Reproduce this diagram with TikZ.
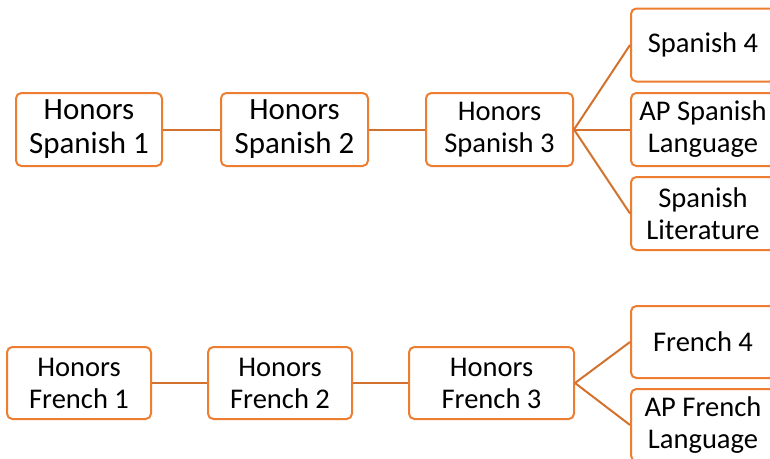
\documentclass[tikz,border=0pt]{standalone}
\usepackage{fontspec}
\setmainfont{Carlito}
\usepackage{xcolor}
\usepackage{tikz}
\usetikzlibrary{positioning}
\definecolor{boxorange}{HTML}{ED7D31}
\definecolor{lineorange}{HTML}{D2722E}
\tikzstyle{course} = [draw=boxorange, line width=1.5pt, rounded corners=4pt, rectangle, fill=white, align=center, inner sep=0pt, minimum height=54.75pt, font=\fontsize{21.4}{24}\selectfont]
\tikzstyle{big} = [font=\fontsize{23.2}{25.5}\selectfont]
\tikzstyle{link} = [draw=lineorange, line width=1.5pt]

\begin{document}
\begin{tikzpicture}[x=0.75pt, y=-0.75pt]
    \useasboundingbox (0,0) rectangle (770,458);
    % Spanish track
    \node[course, big, minimum width=109.5pt] (hs1) at (89,129.5) {Honors\\Spanish 1};
    \node[course, big, minimum width=110.25pt] (hs2) at (294.5,129.5) {Honors\\Spanish 2};
    \node[course, minimum width=110.25pt] (hs3) at (499.5,129.5) {Honors\\Spanish 3};
    \node[course, minimum width=108pt] (sp4) at (703,45) {Spanish 4};
    \node[course, minimum width=108pt] (apsp) at (703,129.5) {AP Spanish\\Language};
    \node[course, minimum width=108pt] (split) at (703,213.5) {Spanish\\Literature};
    \draw[link] (hs1) -- (hs2);
    \draw[link] (hs2) -- (hs3);
    \draw[link] (hs3.east) -- (sp4.west);
    \draw[link] (hs3.east) -- (apsp.west);
    \draw[link] (hs3.east) -- (split.west);
    % French track
    \node[course, minimum width=108pt, minimum height=54pt] (hf1) at (79,383) {Honors\\French 1};
    \node[course, minimum width=108pt, minimum height=54pt] (hf2) at (280,383) {Honors\\French 2};
    \node[course, minimum width=123.75pt, minimum height=54pt] (hf3) at (491.5,383) {Honors\\French 3};
    \node[course, minimum width=108pt, minimum height=54pt] (fr4) at (703,342) {French 4};
    \node[course, minimum width=108pt, minimum height=54pt] (apfr) at (703,425) {AP French\\Language};
    \draw[link] (hf1) -- (hf2);
    \draw[link] (hf2) -- (hf3);
    \draw[link] (hf3.east) -- (fr4.west);
    \draw[link] (hf3.east) -- (apfr.west);
\end{tikzpicture}
\end{document}
